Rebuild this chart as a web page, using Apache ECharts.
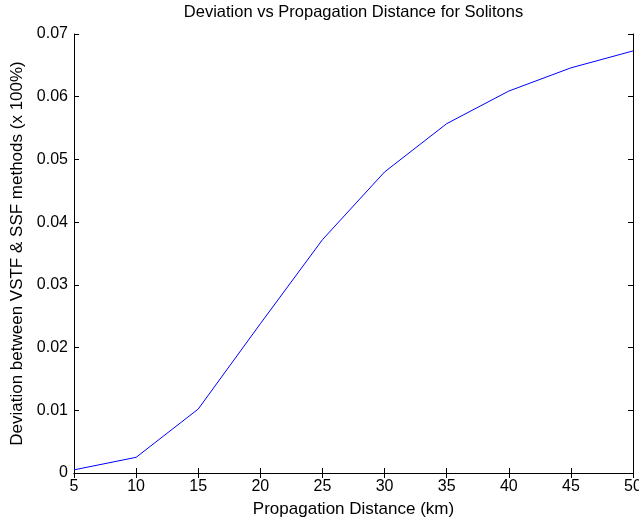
<!DOCTYPE html>
<html>
<head>
<meta charset="utf-8">
<script src="https://cdn.jsdelivr.net/npm/echarts@6/dist/echarts.min.js"></script>
<style>html,body{margin:0;padding:0;background:#fff}#c{width:639px;height:523px}</style>
</head>
<body>
<div id="c"></div>
<script>
var titleText = 'Deviation vs Propagation Distance for Solitons';
var xLabel = 'Propagation Distance (km)';
var yLabel = 'Deviation between VSTF & SSF methods (x 100%)';
var distances = [5, 10, 15, 20, 25, 30, 35, 40, 45, 50];
var deviations = [0.0005, 0.0025, 0.0102, 0.0238, 0.0372, 0.0480, 0.0557, 0.0609, 0.0646, 0.0673];

var font = 'Liberation Sans, Arial, sans-serif';
var chart = echarts.init(document.getElementById('c'), null, {renderer: 'canvas'});
var axLine = {show: true, lineStyle: {color: '#000', width: 1}};
var tick = {show: true, inside: true, length: 5, lineStyle: {color: '#000', width: 1}};
chart.setOption({
  animation: false,
  backgroundColor: '#fff',
  title: {
    text: titleText, left: 353.5, textAlign: 'center', top: 4, padding: 0,
    textStyle: {fontFamily: font, fontSize: 16.5, fontWeight: 'normal', color: '#000'}
  },
  grid: {left: 74, right: 6, top: 34, bottom: 50, containLabel: false, outerBoundsMode: 'none'},
  xAxis: [{
    type: 'value', min: 5, max: 50, interval: 5, position: 'bottom',
    name: xLabel, nameLocation: 'middle', nameGap: 28,
    nameTextStyle: {fontFamily: font, fontSize: 17, color: '#000'},
    axisLine: axLine, axisTick: tick, splitLine: {show: false},
    axisLabel: {fontFamily: font, fontSize: 16, color: '#000', margin: 6}
  }, {
    type: 'value', min: 5, max: 50, interval: 5, position: 'top',
    axisLine: axLine, axisTick: tick, splitLine: {show: false},
    axisLabel: {show: false}
  }],
  yAxis: [{
    type: 'value', min: 0, max: 0.07, interval: 0.01, position: 'left',
    name: yLabel, nameLocation: 'middle', nameGap: 47,
    nameTextStyle: {fontFamily: font, fontSize: 17, color: '#000'},
    axisLine: axLine, axisTick: tick, splitLine: {show: false},
    axisLabel: {fontFamily: font, fontSize: 16, color: '#000', margin: 6,
      formatter: function (v) { return v === 0 ? '0' : v.toFixed(2); }}
  }, {
    type: 'value', min: 0, max: 0.07, interval: 0.01, position: 'right',
    axisLine: axLine, axisTick: tick, splitLine: {show: false},
    axisLabel: {show: false}
  }],
  series: [{
    type: 'line', data: distances.map(function (d, i) { return [d, deviations[i]]; }),
    xAxisIndex: 0, yAxisIndex: 0,
    showSymbol: false, symbol: 'none',
    lineStyle: {color: '#0000ff', width: 1}
  }]
});
</script>
</body>
</html>
